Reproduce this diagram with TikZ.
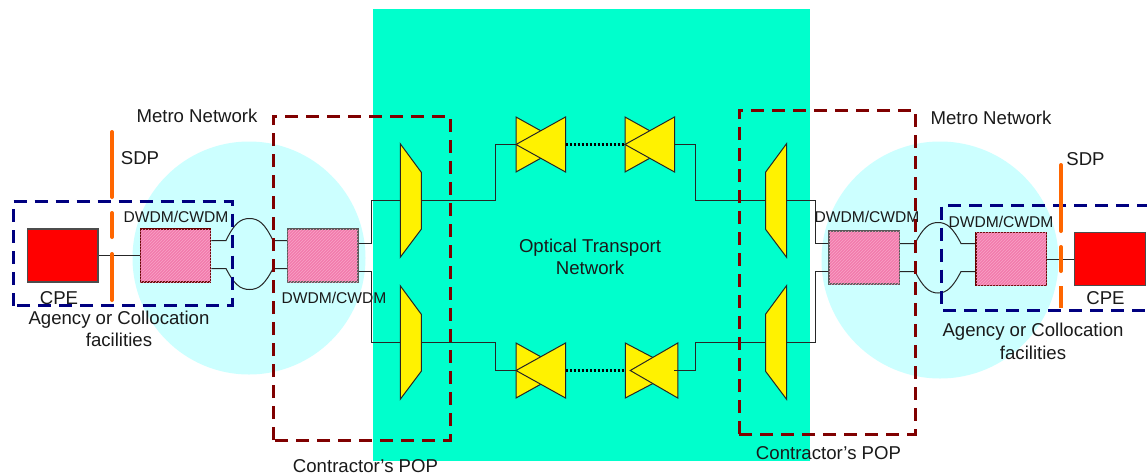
\documentclass[tikz,border=0pt]{standalone}
\usepackage{fontspec}
\setmainfont{Liberation Sans}
\usetikzlibrary{patterns}
\definecolor{teal1}{HTML}{00FFCC}
\definecolor{cyan1}{HTML}{CCFFFF}
\definecolor{brown1}{HTML}{800000}
\definecolor{blue1}{HTML}{000080}
\definecolor{orange1}{HTML}{FF6600}
\definecolor{pink1}{HTML}{F27BAC}
\definecolor{pink2}{HTML}{F9A3C6}
\definecolor{txt}{HTML}{1A1A1A}
\tikzset{
  x=1pt,y=-1pt,
  lbl/.style={inner sep=0pt,text=txt,align=center,font=\fontsize{18.6}{22.5}\selectfont},
  sm/.style={inner sep=0pt,text=txt,font=\fontsize{15.6}{18}\selectfont},
  wire/.style={draw=black!85,line width=1pt},
  cpebox/.style={draw=black!70,line width=1.2pt,fill=red,minimum width=70.5pt,minimum height=53pt,inner sep=0pt},
  wdm/.style={draw=brown1!80!black,line width=1.2pt,fill=pink1,postaction={pattern=north east lines,pattern color=pink2},minimum width=70.5pt,minimum height=53pt,inner sep=0pt},
  wdmg/.style={wdm,draw=black!65},
  ghost/.style={inner sep=0pt,outer sep=0pt},
  yel/.style={draw=black!85,line width=1pt,fill=yellow,line join=miter},
  pop/.style={draw=brown1,line width=3pt,dash pattern=on 13pt off 8pt},
  agency/.style={draw=blue1,line width=3pt,dash pattern=on 13pt off 8pt},
  sdp/.style={draw=orange1,line width=4pt,line cap=round},
  chain/.style={draw=black,line width=2.6pt,dash pattern=on 2.5pt off 1.5pt},
}
% name, centre x, centre y: mux narrow at west
\newcommand{\muxL}[3]{%
  \node[ghost,minimum width=21pt,minimum height=113.5pt] (#1) at (#2,#3) {};
  \draw[yel] (#1.north west) -- ([yshift=-28.5pt]#1.north east) -- ([yshift=28pt]#1.south east) -- (#1.south west) -- cycle;}
\newcommand{\muxR}[3]{%
  \node[ghost,minimum width=21pt,minimum height=113.5pt] (#1) at (#2,#3) {};
  \draw[yel] (#1.north east) -- ([yshift=-28.5pt]#1.north west) -- ([yshift=28pt]#1.south west) -- (#1.south east) -- cycle;}
% name, centre x, centre y
\newcommand{\ampbow}[3]{%
  \node[ghost,minimum width=49.5pt,minimum height=55pt] (#1) at (#2,#3) {};
  \draw[yel] (#1.north west) -- (#1.east) -- (#1.south west) -- cycle;
  \draw[yel] (#1.north east) -- (#1.west) -- (#1.south east) -- cycle;}
\begin{document}
\begin{tikzpicture}
\useasboundingbox (0,0) rectangle (1147,474);
\fill[white] (0,0) rectangle (1147,474);
\fill[teal1] (373,9) rectangle (810,461);
\fill[cyan1] (249,258) circle (116.5);
\fill[cyan1] (940,260) circle (118.5);

% equipment
\node[cpebox] (cpeL) at (62.75,255.5) {};
\node[wdm] (wdmA) at (175.5,255.5) {};
\node[wdmg] (wdmB) at (322.75,255.5) {};
\node[wdmg] (wdmC) at (864.25,257.5) {};
\node[wdm] (wdmD) at (1011.25,259) {};
\node[cpebox] (cpeR) at (1110,259) {};

\muxL{muxA}{410.75}{200.5}
\muxL{muxB}{410.75}{342.5}
\muxR{muxC}{776}{200.5}
\muxR{muxD}{776}{342.5}

\ampbow{oaA}{540.75}{144.5}
\ampbow{oaB}{649.75}{144.5}
\ampbow{oaC}{540.75}{370.5}
\node[ghost,minimum width=52.5pt,minimum height=55pt] (oaD) at (651.5,370.5) {};
\draw[yel] (oaD.north west) -- (oaD.east) -- (oaD.south west) -- cycle;
\draw[yel] (oaD.north east) -- ([xshift=5pt]oaD.west) -- (oaD.south east) -- cycle;

% wiring
\draw[wire] (cpeL.east) -- (wdmA.west);
\draw[wire] (cpeR.west) -- (wdmD.east);
\coordinate (a1) at (226,240.5); \coordinate (a2) at (273,240.5);
\coordinate (b1) at (226,268.5); \coordinate (b2) at (273,268.5);
\draw[wire] (wdmA.east |- a1) -- (a1) .. controls (234,224) and (240,218.5) .. (249.5,218.5) .. controls (259,218.5) and (265,224) .. (a2) -- (wdmB.west |- a2);
\draw[wire] (wdmA.east |- b1) -- (b1) .. controls (234,284) and (240,289.5) .. (249.5,289.5) .. controls (259,289.5) and (265,284) .. (b2) -- (wdmB.west |- b2);
\coordinate (c1) at (915,243.5); \coordinate (c2) at (961,243.5);
\coordinate (d1) at (915,271.5); \coordinate (d2) at (961,271.5);
\draw[wire] (wdmC.east |- c1) -- (c1) .. controls (923,228) and (929,222.5) .. (938,222.5) .. controls (947,222.5) and (953,228) .. (c2) -- (wdmD.west |- c2);
\draw[wire] (wdmC.east |- d1) -- (d1) .. controls (923,287) and (929,293) .. (938,293) .. controls (947,293) and (953,287) .. (d2) -- (wdmD.west |- d2);

\coordinate (j1) at (371.5,243.5); \coordinate (j2) at (371.5,271.5);
\draw[wire] (wdmB.east |- j1) -- (j1) |- (muxA.west);
\draw[wire] (wdmB.east |- j2) -- (j2) |- (muxB.west);
\coordinate (k1) at (815.5,243.5); \coordinate (k2) at (815.5,271.5);
\draw[wire] (wdmC.west |- k1) -- (k1) |- (muxC.east);
\draw[wire] (wdmC.west |- k2) -- (k2) |- (muxD.east);

\coordinate (m1) at (495.5,200.5); \coordinate (m2) at (495.5,342.5);
\coordinate (m3) at (695.5,200.5); \coordinate (m4) at (695.5,342.5);
\draw[wire] (muxA.east) -- (m1) |- (oaA.west);
\draw[wire] (muxB.east) -- (m2) |- (oaC.west);
\draw[wire] (oaB.east) -| (m3) -- (muxC.west);
\draw[wire] ([xshift=-3.5pt]oaD.east) -| (m4) -- (muxD.west);

\draw[chain] (oaA.east) -- (oaB.west);
\draw[chain] (oaC.east) -- (oaD.west);

% boundaries
\draw[pop] (273,440) -- (273,116) -- (450,116) -- (450,440) -- cycle;
\draw[pop] (739,434) -- (739,110) -- (915,110) -- (915,434) -- cycle;
\draw[agency] (13,305.5) -- (13,201) -- (232,201) -- (232,305.5) -- cycle;
\draw[agency] (1150,205) -- (941.5,205) -- (941.5,310) -- (1150,310);

\draw[sdp] (112,132) -- (112,197);
\draw[sdp] (112,213) -- (112,237);
\draw[sdp] (112,254) -- (112,300);
\draw[sdp] (1061,165) -- (1061,231);
\draw[sdp] (1061,247) -- (1061,271);
\draw[sdp,line cap=butt] (1061,286) -- (1061,308);

% labels
\node[lbl] (t1) at (197,116) {Metro Network};
\node[lbl] (t2) at (991,118) {Metro Network};
\node[lbl] (t3) at (140,158) {SDP};
\node[lbl] (t4) at (1085.5,159.5) {SDP};
\node[sm] (t5) at (176,217) {DWDM/CWDM};
\node[sm] (t6) at (334,297.5) {DWDM/CWDM};
\node[sm] (t7) at (867,217) {DWDM/CWDM};
\node[sm] (t8) at (1001,222) {DWDM/CWDM};
\node[lbl] (t9) at (59,298) {CPE};
\node[lbl] (t10) at (1105.5,298.5) {CPE};
\node[lbl] (t11) at (119,329) {Agency or Collocation\\facilities};
\node[lbl] (t12) at (1033,341.5) {Agency or Collocation\\facilities};
\node[lbl] (t13) at (590,257) {Optical Transport\\Network};
\node[lbl] (t14) at (365.5,466) {Contractor’s POP};
\node[lbl] (t15) at (828.5,453) {Contractor’s POP};
\end{tikzpicture}
\end{document}
